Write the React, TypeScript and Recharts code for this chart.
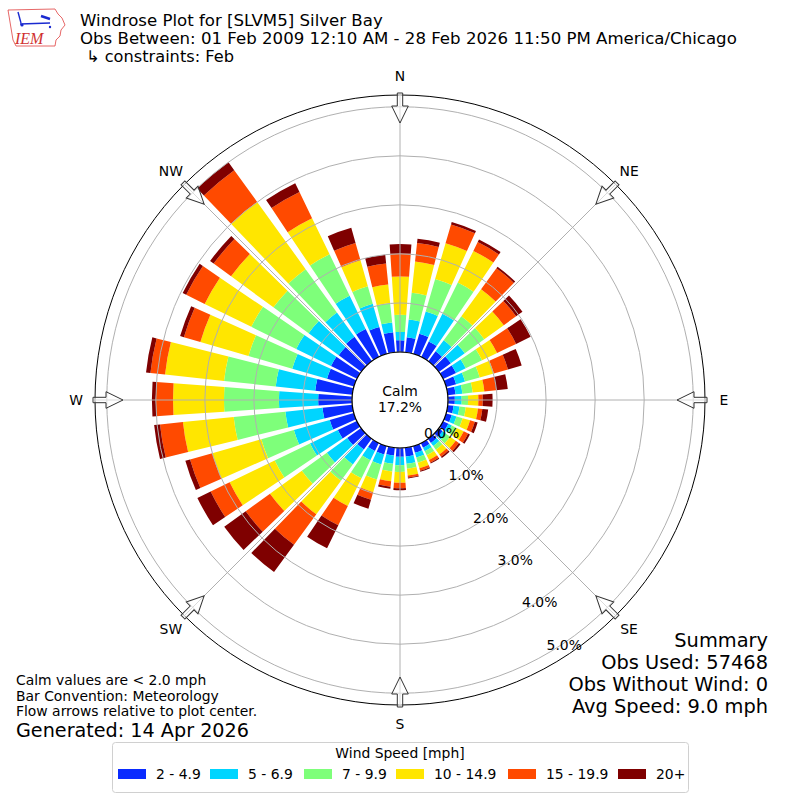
import { RadialBarChart, RadialBar, PolarAngleAxis, PolarRadiusAxis, PolarGrid } from 'recharts';

// wind directions (degrees, meteorological)
const directions = [0, 10, 20, 30, 40, 50, 60, 70, 80, 90, 100, 110, 120, 130, 140, 150, 160, 170,
  180, 190, 200, 210, 220, 230, 240, 250, 260, 270, 280, 290, 300, 310, 320, 330, 340, 350];

const speedBins = ['2 - 4.9', '5 - 6.9', '7 - 9.9', '10 - 14.9', '15 - 19.9', '20+'];
const binColors = ['#0a2bff', '#00d5ff', '#7eff7a', '#ffe600', '#ff4a00', '#7f0000'];

// frequency (%) per direction, one array per speed bin
const speed2to5 = [0.24, 0.31, 0.43, 0.35, 0.25, 0.30, 0.29, 0.21, 0.16, 0.14, 0.12, 0.12, 0.12, 0.10, 0.10, 0.10, 0.14, 0.18,
  0.18, 0.16, 0.18, 0.18, 0.27, 0.35, 0.43, 0.51, 0.61, 0.69, 0.76, 0.57, 0.59, 0.57, 0.61, 0.63, 0.57, 0.41];
const speed5to7 = [0.17, 0.36, 0.47, 0.63, 0.28, 0.35, 0.22, 0.19, 0.14, 0.14, 0.12, 0.10, 0.08, 0.08, 0.08, 0.08, 0.10, 0.15,
  0.17, 0.17, 0.21, 0.21, 0.38, 0.51, 0.63, 0.76, 0.76, 0.80, 0.81, 0.74, 0.79, 0.76, 0.61, 0.75, 0.49, 0.20];
const speed7to10 = [0.35, 0.55, 0.69, 0.71, 0.61, 0.49, 0.37, 0.31, 0.21, 0.13, 0.13, 0.13, 0.11, 0.11, 0.09, 0.09, 0.11, 0.10,
  0.14, 0.16, 0.32, 0.41, 0.41, 0.63, 0.80, 0.69, 1.06, 1.12, 1.06, 0.93, 1.02, 0.89, 1.09, 0.94, 0.37, 0.40];
const speed10to15 = [0.78, 0.64, 0.76, 0.72, 0.68, 0.49, 0.34, 0.30, 0.24, 0.21, 0.25, 0.16, 0.16, 0.14, 0.12, 0.11, 0.12, 0.14,
  0.22, 0.20, 0.27, 0.63, 0.85, 0.80, 1.02, 1.04, 1.04, 1.04, 1.21, 1.02, 1.06, 1.07, 1.69, 0.82, 0.55, 0.38];
const speed15to20 = [0.47, 0.38, 0.40, 0.20, 0.53, 0.31, 0.43, 0.30, 0.24, 0.09, 0.09, 0.10, 0.10, 0.08, 0.06, 0.06, 0.05, 0.04,
  0.11, 0.11, 0.16, 0.44, 0.77, 0.61, 0.43, 0.47, 0.47, 0.35, 0.30, 0.35, 0.42, 0.44, 0.80, 0.59, 0.37, 0.43];
const speed20plus = [0.19, 0.09, 0.05, 0.06, 0.04, 0.16, 0.33, 0.29, 0.24, 0.20, 0.12, 0.06, 0.04, 0.04, 0.03, 0.02, 0.02, 0.02,
  0.04, 0.04, 0.19, 0.52, 0.69, 0.54, 0.30, 0.10, 0.12, 0.08, 0.09, 0.08, 0.08, 0.09, 0.20, 0.20, 0.32, 0.18];

const radiusTicks = [0, 1, 2, 3, 4, 5];
const compassLabels = ['N', 'NE', 'E', 'SE', 'S', 'SW', 'W', 'NW'];
const compassBearings = [0, 45, 90, 135, 180, 225, 270, 315];
const gridAngles = [90, 45, 0, -45, -90, -135, 180, 135];

const seriesKeys = ['s1', 's2', 's3', 's4', 's5', 's6'];
const data = directions.map((d, i) => ({
  dir: d,
  s1: speed2to5[i],
  s2: speed5to7[i],
  s3: speed7to10[i],
  s4: speed10to15[i],
  s5: speed15to20[i],
  s6: speed20plus[i],
}));

const FONT = 'DejaVu Sans';
const CX = 400;
const CY = 400;
const layerStyle: React.CSSProperties = { position: 'absolute', left: 0, top: 0, pointerEvents: 'none' };

// shared polar setup so both layers use the same scales
const polarProps = {
  width: 800,
  height: 800,
  cx: CX,
  cy: CY,
  innerRadius: 48,
  outerRadius: 305,
  startAngle: 85,
  endAngle: -275,
  layout: 'centric' as const,
  data,
  barCategoryGap: '8%',
  margin: { top: 0, right: 0, bottom: 0, left: 0 },
};

const RingTick = (props: any) => {
  const { x, y, payload } = props;
  return (
    <text x={x} y={y - 4} fontSize={13.9} fontFamily={FONT} fill="#000" textAnchor="start">
      {Number(payload.value).toFixed(1)}%
    </text>
  );
};

function Annotations() {
  return (
    <svg width={800} height={800} style={layerStyle} fontFamily={FONT}>
      {/* logo */}
      <path d="M8,10 L55,9 L58,14 L62,18 L65,25 L61,30 L60,36 L56,40 L55,46 L16,46 L13,40 L11,28 Z"
        fill="none" stroke="#e04040" strokeWidth={0.8} />
      <line x1={20} y1={24} x2={50} y2={23} stroke="#1a2ad0" strokeWidth={1.6} />
      <line x1={18} y1={12} x2={21} y2={23} stroke="#1a2ad0" strokeWidth={1.4} />
      <line x1={41} y1={16} x2={50} y2={19} stroke="#1a2ad0" strokeWidth={2.4} />
      <circle cx={22} cy={25} r={1.6} fill="#1a2ad0" />
      <circle cx={50} cy={27} r={1.2} fill="#1a2ad0" />
      <text x={15} y={44} fontSize={16} fontFamily="Liberation Serif" fontStyle="italic" fill="#d03030">IEM</text>

      {/* title */}
      <text x={80} y={26} fontSize={16.6}>Windrose Plot for [SLVM5] Silver Bay</text>
      <text x={80} y={43.5} fontSize={16.6}>Obs Between: 01 Feb 2009 12:10 AM - 28 Feb 2026 11:50 PM America/Chicago</text>
      <text x={86} y={62} fontSize={16.2}>↳ constraints: Feb</text>

      {/* compass arrows and labels */}
      {compassBearings.map((b, i) => {
        const rad = (b * Math.PI) / 180;
        const lx = CX + 324 * Math.sin(rad);
        const ly = CY - 324 * Math.cos(rad);
        return (
          <g key={b}>
            <polygon
              points={`${CX - 2.7},${CY - 307} ${CX + 2.7},${CY - 307} ${CX + 2.7},${CY - 294} ${CX + 8.3},${CY - 294} ${CX},${CY - 277} ${CX - 8.3},${CY - 294} ${CX - 2.7},${CY - 294}`}
              fill="rgba(255,255,255,0.55)" stroke="#333" strokeWidth={1}
              transform={`rotate(${b} ${CX} ${CY})`} />
            <text x={lx} y={ly + 5} fontSize={13.9} textAnchor="middle">{compassLabels[i]}</text>
          </g>
        );
      })}

      {/* calm circle outline and value */}
      <circle cx={CX} cy={CY} r={48} fill="none" stroke="#000" strokeWidth={1.2} />
      <text x={CX} y={396} fontSize={13.9} textAnchor="middle">Calm</text>
      <text x={CX} y={412} fontSize={13.9} textAnchor="middle">17.2%</text>

      {/* notes */}
      <text x={16} y={685} fontSize={13.9}>Calm values are &lt; 2.0 mph</text>
      <text x={16} y={701} fontSize={13.9}>Bar Convention: Meteorology</text>
      <text x={16} y={716} fontSize={13.9}>Flow arrows relative to plot center.</text>
      <text x={16} y={737} fontSize={19.2}>Generated: 14 Apr 2026</text>

      <text x={768} y={647} fontSize={19.4} textAnchor="end">Summary</text>
      <text x={768} y={669} fontSize={19.4} textAnchor="end">Obs Used: 57468</text>
      <text x={768} y={691} fontSize={19.4} textAnchor="end">Obs Without Wind: 0</text>
      <text x={768} y={713} fontSize={19.4} textAnchor="end">Avg Speed: 9.0 mph</text>

      {/* legend */}
      <rect x={112.5} y={742.5} width={576} height={50} rx={3} fill="#fff" stroke="#d0d0d0" />
      <text x={400} y={758} fontSize={13.9} textAnchor="middle">Wind Speed [mph]</text>
      {speedBins.map((name, i) => {
        const sx = [118, 210, 304, 396, 508, 618][i];
        return (
          <g key={name}>
            <rect x={sx} y={769} width={28} height={10} fill={binColors[i]} />
            <text x={sx + 38} y={779} fontSize={13.9}>{name}</text>
          </g>
        );
      })}
    </svg>
  );
}

export default function App() {
  return (
    <div style={{ position: 'absolute', left: 0, top: 0, width: 800, height: 800, background: '#fff' }}>
      {/* bars */}
      <div style={{ position: 'absolute', left: 0, top: 0 }}>
        <RadialBarChart {...polarProps}>
          <PolarAngleAxis dataKey="dir" type="category" tick={false} tickLine={false}
            axisLineType="circle" axisLine={{ stroke: '#000', strokeWidth: 1 }} />
          <PolarRadiusAxis type="number" domain={[0, 5.24]} ticks={radiusTicks} angle={-60}
            axisLine={false} tick={false} allowDataOverflow />
          {seriesKeys.map((k, i) => (
            <RadialBar key={k} dataKey={k} stackId="wind" fill={binColors[i]} isAnimationActive={false} />
          ))}
        </RadialBarChart>
      </div>
      {/* calm disc */}
      <svg width={800} height={800} style={layerStyle}>
        <circle cx={CX} cy={CY} r={48} fill="#fff" />
      </svg>
      {/* grid and ring labels drawn over the bars */}
      <div style={layerStyle}>
        <RadialBarChart {...polarProps}>
          <PolarAngleAxis dataKey="dir" type="category" tick={false} tickLine={false} axisLine={false} />
          <PolarRadiusAxis type="number" domain={[0, 5.24]} ticks={radiusTicks} angle={-60}
            axisLine={false} tick={RingTick} allowDataOverflow />
          <PolarGrid gridType="circle" polarAngles={gridAngles} stroke="#b0b0b0" strokeWidth={1} />
        </RadialBarChart>
      </div>
      <Annotations />
    </div>
  );
}
